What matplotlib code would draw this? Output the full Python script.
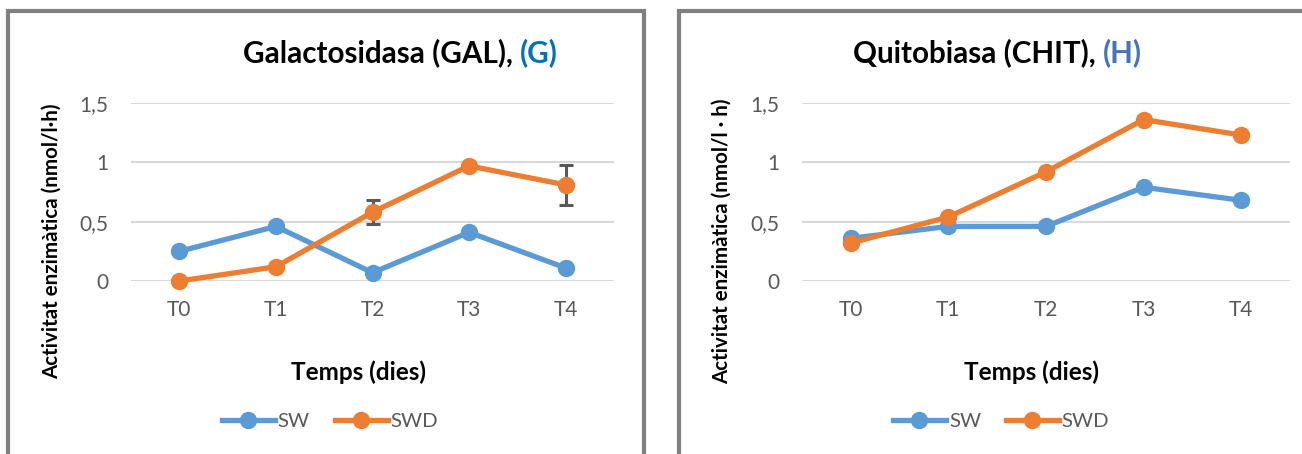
import matplotlib
matplotlib.use("Agg")
import matplotlib.pyplot as plt
from matplotlib.patches import Rectangle
from matplotlib.lines import Line2D

plt.rcParams['font.family'] = ['Lato', 'DejaVu Sans']

categories = ["T0", "T1", "T2", "T3", "T4"]
yticks = [0, 0.5, 1, 1.5]
ytick_labels = ["0", "0,5", "1", "1,5"]

gal_sw = [0.25, 0.46, 0.07, 0.41, 0.11]
gal_swd = [0.0, 0.12, 0.58, 0.97, 0.81]
gal_sw_err = [0.0, 0.0, 0.0, 0.0, 0.0]
gal_swd_err = [0.0, 0.0, 0.10, 0.02, 0.17]

chit_sw = [0.36, 0.46, 0.46, 0.79, 0.68]
chit_swd = [0.32, 0.54, 0.92, 1.36, 1.23]
chit_sw_err = [0.0, 0.0, 0.02, 0.01, 0.03]
chit_swd_err = [0.0, 0.0, 0.02, 0.02, 0.02]

BLUE = "#5B9BD5"
ORANGE = "#ED7D31"
GRID = "#D9D9D9"
TICK = "#595959"
BORDER = "#808080"

W, H = 1302, 454
fig = plt.figure(figsize=(W / 100, H / 100), dpi=100)


def fx(x):
    return x / W


def fy(y):
    return 1 - y / H


# panel frames
fig.patches.append(Rectangle((fx(8), fy(470)), fx(644) - fx(8), fy(11) - fy(470),
                             transform=fig.transFigure, fill=False,
                             edgecolor=BORDER, linewidth=3.0))
fig.patches.append(Rectangle((fx(679), fy(470)), fx(1320) - fx(679), fy(11) - fy(470),
                             transform=fig.transFigure, fill=False,
                             edgecolor=BORDER, linewidth=3.0))

LW = 3.8
MS = 11.5


def panel(x0, x1, sw, swd, sw_err, swd_err, title, tag, tag_color, title_x,
          ylabel, ylabel_x, legend_x):
    ax = fig.add_axes([fx(x0), fy(281), fx(x1) - fx(x0), fy(103) - fy(281)])
    x = list(range(len(categories)))
    ax.set_xlim(-0.5, len(categories) - 0.5)
    ax.set_ylim(0, 1.5)
    for s in ax.spines.values():
        s.set_visible(False)
    ax.set_yticks(yticks)
    ax.set_yticklabels(ytick_labels)
    ax.set_xticks(x)
    ax.set_xticklabels(categories)
    ax.tick_params(axis='both', length=0, labelsize=15, colors=TICK)
    ax.tick_params(axis='y', pad=16.5)
    ax.tick_params(axis='x', pad=14)
    ax.yaxis.grid(True, color=GRID, linewidth=1.5, zorder=0)
    ax.set_axisbelow(True)

    ax.errorbar(x, sw, yerr=sw_err, fmt='none', ecolor=TICK, elinewidth=2.2,
                capsize=5, capthick=2.2, zorder=2, clip_on=False)
    ax.errorbar(x, swd, yerr=swd_err, fmt='none', ecolor=TICK, elinewidth=2.2,
                capsize=5, capthick=2.2, zorder=2, clip_on=False)
    ax.plot(x, sw, color=BLUE, linewidth=LW, marker='o', markersize=MS,
            zorder=3, clip_on=False, solid_capstyle='round')
    ax.plot(x, swd, color=ORANGE, linewidth=LW, marker='o', markersize=MS,
            zorder=4, clip_on=False, solid_capstyle='round')

    t1 = fig.text(fx(title_x), fy(53), title, fontsize=21.3, fontweight='bold',
                  color='black', ha='left', va='center')
    fig.canvas.draw()
    bb = t1.get_window_extent()
    fig.text(bb.x1 / W, fy(53), tag, fontsize=21.3, fontweight='bold',
             color=tag_color, ha='left', va='center')

    fig.text(fx(ylabel_x), fy(241), ylabel, fontsize=14.8, fontweight='bold',
             rotation=90, ha='center', va='center', color='black')
    fig.text(fx((x0 + x1) / 2 - 14), fy(372), "Temps (dies)", fontsize=17.5,
             fontweight='bold', ha='center', va='center', color='black')

    handles = [Line2D([], [], color=BLUE, linewidth=LW, marker='o', markersize=MS),
               Line2D([], [], color=ORANGE, linewidth=LW, marker='o', markersize=MS)]
    fig.legend(handles, ["SW", "SWD"], loc='center', bbox_to_anchor=(fx(legend_x), fy(421)),
               ncol=2, frameon=False, fontsize=14.7, handlelength=2.6,
               handletextpad=0.15, columnspacing=1.2, labelcolor=TICK)
    return ax


panel(131, 614, gal_sw, gal_swd, gal_sw_err, gal_swd_err,
      "Galactosidasa (GAL), ", "(G)", "#0070C0", 243,
      "Activitat enzimàtica (nmol/l·h)", 52, 330)
panel(802, 1290, chit_sw, chit_swd, chit_sw_err, chit_swd_err,
      "Quitobiasa (CHIT), ", "(H)", "#4472C4", 853,
      "Activitat enzimàtica (nmol/l · h)", 722, 1001)

fig.savefig("out.png", dpi=100)
